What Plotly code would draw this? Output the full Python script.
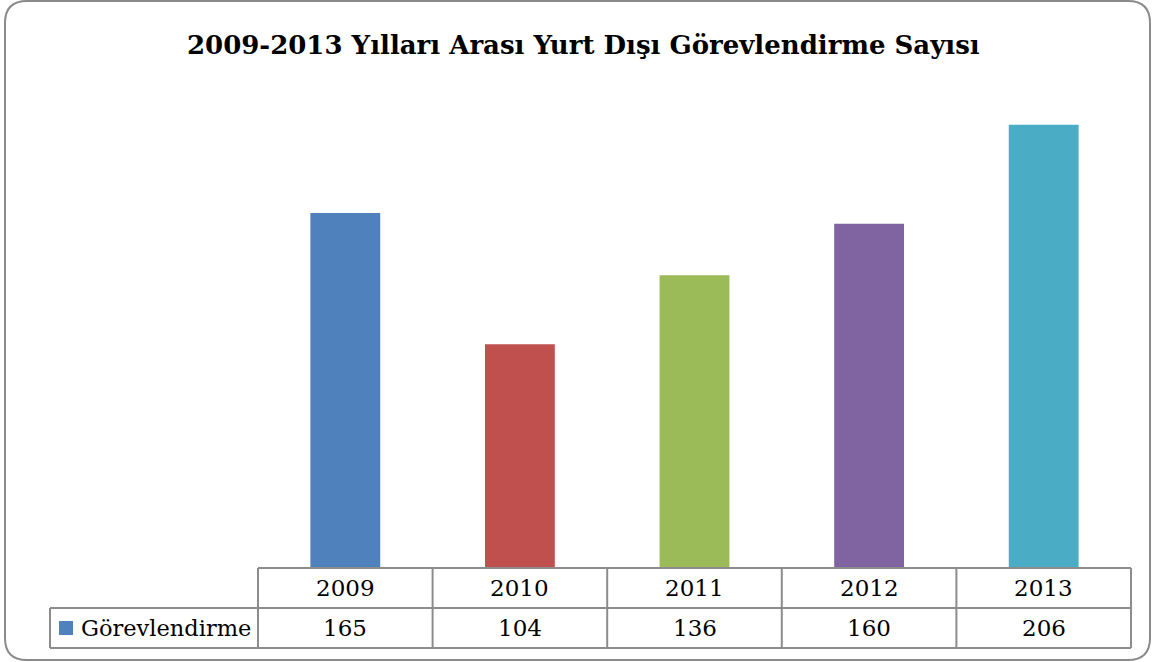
import plotly.graph_objects as go

years = ["2009", "2010", "2011", "2012", "2013"]
values = [165, 104, 136, 160, 206]
colors = ["#4F81BD", "#C0504D", "#9BBB59", "#8064A2", "#4BACC6"]
series_name = "Görevlendirme"
title = "2009-2013 Yılları Arası Yurt Dışı Görevlendirme Sayısı"

W, H = 1153, 662
FONT = "DejaVu Serif"
GRID = "#8c8c8c"

def px(x):
    return x / W

def py(y):
    return 1 - y / H

# table geometry (pixels)
tx0, tx1 = 258, 1131
ty0, ty1, ty2 = 568, 608, 648
lx0 = 50
ncol = len(years)
cw = (tx1 - tx0) / ncol

fig = go.Figure()
fig.add_trace(go.Bar(
    x=years, y=values, marker=dict(color=colors, line=dict(width=0)),
    name=series_name, showlegend=False, hoverinfo="x+y",
))

shapes = []
# rounded frame
r = 22
x0, y0, x1, y1 = 5, 1, 1150, 660
path = (f"M {px(x0+r)},{py(y0)} L {px(x1-r)},{py(y0)} "
        f"Q {px(x1)},{py(y0)} {px(x1)},{py(y0+r)} "
        f"L {px(x1)},{py(y1-r)} Q {px(x1)},{py(y1)} {px(x1-r)},{py(y1)} "
        f"L {px(x0+r)},{py(y1)} Q {px(x0)},{py(y1)} {px(x0)},{py(y1-r)} "
        f"L {px(x0)},{py(y0+r)} Q {px(x0)},{py(y0)} {px(x0+r)},{py(y0)} Z")
shapes.append(dict(type="path", xref="paper", yref="paper", path=path,
                   line=dict(color="#8a8a8a", width=2), fillcolor="rgba(0,0,0,0)", layer="below"))

def hline(xa, xb, y):
    shapes.append(dict(type="line", xref="paper", yref="paper",
                       x0=px(xa), x1=px(xb), y0=py(y), y1=py(y),
                       line=dict(color=GRID, width=2)))

def vline(x, ya, yb):
    shapes.append(dict(type="line", xref="paper", yref="paper",
                       x0=px(x), x1=px(x), y0=py(ya), y1=py(yb),
                       line=dict(color=GRID, width=2)))

hline(tx0, tx1, ty0)
hline(lx0, tx1, ty1)
hline(lx0, tx1, ty2)
vline(lx0, ty1, ty2)
for i in range(ncol + 1):
    vline(tx0 + i * cw, ty0, ty2)

# legend key square
shapes.append(dict(type="rect", xref="paper", yref="paper",
                   x0=px(59), x1=px(73), y0=py(621), y1=py(635),
                   fillcolor=colors[0], line=dict(width=0)))

annotations = []
for i, (yr, v) in enumerate(zip(years, values)):
    cx = tx0 + (i + 0.5) * cw
    annotations.append(dict(x=px(cx), y=py((ty0 + ty1) / 2), xref="paper", yref="paper",
                            text=yr, showarrow=False, xanchor="center", yanchor="middle",
                            font=dict(family=FONT, size=23, color="#000")))
    annotations.append(dict(x=px(cx), y=py((ty1 + ty2) / 2), xref="paper", yref="paper",
                            text=str(v), showarrow=False, xanchor="center", yanchor="middle",
                            font=dict(family=FONT, size=23, color="#000")))
annotations.append(dict(x=px(79), y=py((ty1 + ty2) / 2), xref="paper", yref="paper",
                        text=series_name, showarrow=False, xanchor="left", yanchor="middle",
                        font=dict(family=FONT, size=22.5, color="#000")))
annotations.append(dict(x=px(583), y=py(45), xref="paper", yref="paper",
                        text=f"<b>{title}</b>", showarrow=False, xanchor="center", yanchor="middle",
                        font=dict(family=FONT, size=26, color="#000")))

fig.update_layout(
    width=W, height=H, autosize=False,
    margin=dict(l=0, r=0, t=0, b=0),
    paper_bgcolor="white", plot_bgcolor="rgba(0,0,0,0)",
    bargap=0.6,
    xaxis=dict(domain=[px(tx0), px(tx1)], showticklabels=False, showgrid=False,
               zeroline=False, showline=False, ticks=""),
    yaxis=dict(domain=[py(ty0), py(30)], range=[0, 250], showticklabels=False,
               showgrid=False, zeroline=False, showline=False, ticks=""),
    shapes=shapes, annotations=annotations,
)

fig.write_html("out.html", config={"displayModeBar": False},
               post_script="document.body.style.margin='0';")
